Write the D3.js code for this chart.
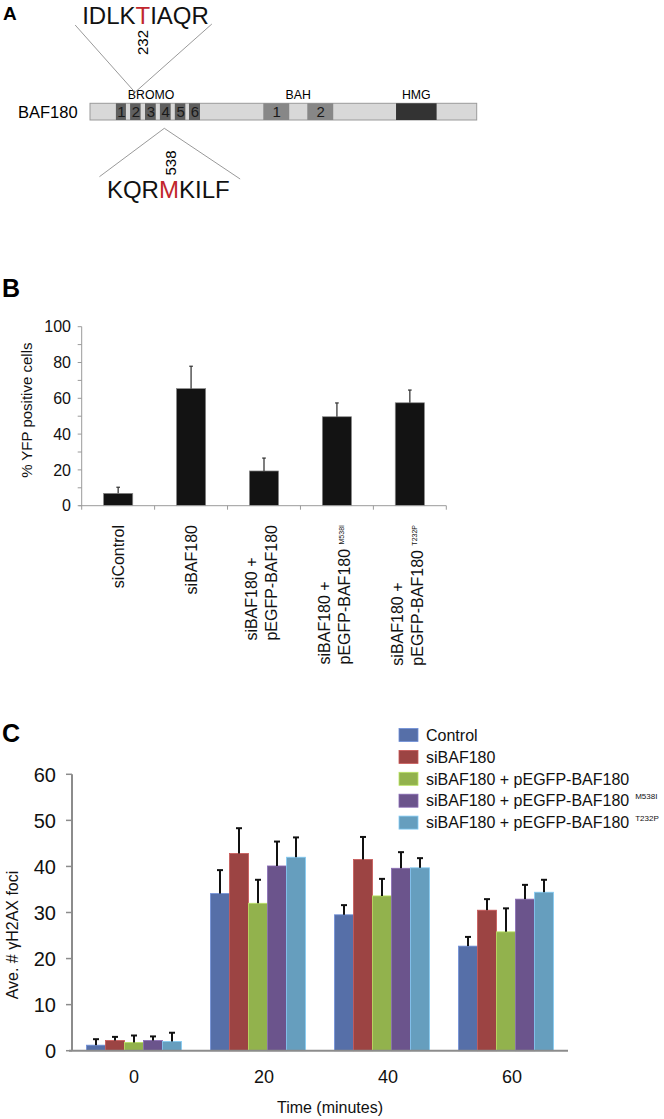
<!DOCTYPE html>
<html>
<head>
<meta charset="utf-8">
<script src="https://cdn.jsdelivr.net/npm/d3@7"></script>
<style>
  body { margin: 0; background: #fff; }
  svg { display: block; font-family: "Liberation Sans", Arial, sans-serif; }
</style>
</head>
<body>
<svg id="fig" width="664" height="1119"></svg>
<script>
// ---- Panel A: BAF180 domain schematic (positions in schematic residue units, 0-1582)
const proteinLength = 1582;
const domainNames = ["1", "2", "3", "4", "5", "6", "1", "2", ""];
const domainStarts = [106, 164, 225, 286, 347, 405, 709, 889, 1252];
const domainEnds = [147, 207, 269, 330, 390, 450, 815, 995, 1418];
const domainTypes = ["bromo", "bromo", "bromo", "bromo", "bromo", "bromo", "bah", "bah", "hmg"];
const regionLabels = ["BROMO", "BAH", "HMG"];
const regionCenters = [250, 852, 1335];
const motifTop = ["IDLK", "T", "IAQR"];
const motifBottom = ["KQR", "M", "KILF"];
const siteTop = {label: "232", pos: 184};
const siteBottom = {label: "538", pos: 304};

// ---- Panel B: % YFP positive cells
const labelsB = [["siControl"], ["siBAF180"], ["siBAF180 +", "pEGFP-BAF180"],
                 ["siBAF180 +", "pEGFP-BAF180 "], ["siBAF180 +", "pEGFP-BAF180 "]];
const supsB = ["", "", "", "M538I", "T232P"];
const valuesB = [6.9, 65.4, 19.4, 49.7, 57.5];
const errorsB = [3.4, 12.5, 7.2, 7.7, 7.1];
const ticksB = [0, 20, 40, 60, 80, 100];

// ---- Panel C: Ave. # γH2AX foci
const times = ["0", "20", "40", "60"];
const seriesNames = ["Control", "siBAF180", "siBAF180 + pEGFP-BAF180",
                     "siBAF180 + pEGFP-BAF180 ", "siBAF180 + pEGFP-BAF180  "];
const seriesSups = ["", "", "", "M538I", "T232P"];
const seriesColors = ["#566fa8", "#9c4443", "#92b24d", "#6b548c", "#669ebe"];
const valuesC = [
  [1.2, 34.1, 29.5, 22.7],
  [2.2, 42.8, 41.5, 30.5],
  [1.8, 32.0, 33.6, 25.8],
  [2.2, 40.1, 39.6, 32.9],
  [2.0, 42.0, 39.7, 34.4]
];
const errorsC = [
  [1.3, 5.1, 2.1, 2.0],
  [0.8, 5.5, 4.9, 2.4],
  [1.5, 5.1, 3.7, 5.1],
  [0.9, 5.3, 3.5, 3.1],
  [1.9, 4.3, 2.1, 2.7]
];
const ticksC = [0, 10, 20, 30, 40, 50, 60];

const svg = d3.select("#fig");

// panel letters
svg.append("text").attr("x", 3).attr("y", 20).attr("font-size", 19).attr("font-weight", "bold").text("A");
svg.append("text").attr("x", 2).attr("y", 297).attr("font-size", 25).attr("font-weight", "bold").text("B");
svg.append("text").attr("x", 2).attr("y", 742).attr("font-size", 25).attr("font-weight", "bold").text("C");

// ================= Panel A =================
function drawSchematic() {
  const g = svg.append("g");
  const x = d3.scaleLinear().domain([0, proteinLength]).range([90, 476.7]);
  const barTop = 103.3, barH = 16.7;
  const fills = {bromo: "#5f5f5f", bah: "#878787", hmg: "#333333"};

  g.append("rect")
    .attr("x", x(0)).attr("y", barTop)
    .attr("width", x(proteinLength) - x(0)).attr("height", barH)
    .attr("fill", "#d8d8d8").attr("stroke", "#9a9a9a").attr("stroke-width", 1);

  g.selectAll(".dom")
    .data(domainStarts.map((s, i) => ({s, e: domainEnds[i], name: domainNames[i], type: domainTypes[i]})))
    .enter().append("rect")
    .attr("x", d => x(d.s)).attr("y", barTop)
    .attr("width", d => x(d.e) - x(d.s)).attr("height", barH)
    .attr("fill", d => fills[d.type]);

  g.selectAll(".domnum")
    .data(domainStarts.map((s, i) => ({s, e: domainEnds[i], name: domainNames[i]})))
    .enter().append("text")
    .attr("x", d => (x(d.s) + x(d.e)) / 2 + 0.5)
    .attr("y", barTop + barH / 2)
    .attr("dy", "0.36em")
    .attr("text-anchor", "middle")
    .attr("font-size", 15)
    .attr("fill", "#1a1a1a")
    .text(d => d.name);

  g.selectAll(".region")
    .data(regionLabels)
    .enter().append("text")
    .attr("x", (d, i) => x(regionCenters[i]))
    .attr("y", 99)
    .attr("text-anchor", "middle")
    .attr("font-size", 12.3)
    .text(d => d);

  g.append("text").attr("x", 18).attr("y", 117.5).attr("font-size", 16.5).text("BAF180");

  // callout text with the mutated residue in red
  function motif(parts, cx, baseline) {
    const t = g.append("text").attr("x", cx).attr("y", baseline)
      .attr("text-anchor", "middle").attr("font-size", 24);
    parts.forEach((p, i) => t.append("tspan").attr("fill", i === 1 ? "#c1272d" : "#111").text(p));
    return t.node().getBBox();
  }

  const lineStyle = sel => sel.attr("stroke", "#9a9a9a").attr("stroke-width", 1).attr("fill", "none");

  const topBox = motif(motifTop, 145.5, 24);
  const apexTop = [x(siteTop.pos), barTop - 11];
  lineStyle(g.append("path")
    .attr("d", d3.line()([[topBox.x - 7, 25], apexTop, [topBox.x + topBox.width + 3, 24]])));
  g.append("text")
    .attr("transform", `translate(${apexTop[0] + 7.7},42.5) rotate(-90)`)
    .attr("text-anchor", "middle").attr("dy", "0.36em").attr("font-size", 15)
    .text(siteTop.label);

  const botBox = motif(motifBottom, 168.3, 198);
  const apexBot = [x(siteBottom.pos), barTop + barH + 8.3];
  lineStyle(g.append("path")
    .attr("d", d3.line()([[botBox.x - 7.5, 176.7], apexBot, [botBox.x + botBox.width + 10.5, 179]])));
  g.append("text")
    .attr("transform", `translate(${apexBot[0] + 6.7},163) rotate(-90)`)
    .attr("text-anchor", "middle").attr("dy", "0.36em").attr("font-size", 15)
    .text(siteBottom.label);
}

// ================= Panel B =================
function drawPanelB() {
  const g = svg.append("g");
  const left = 81.7, right = 446.3, top = 326.7, bottom = 505.7;
  const x = d3.scaleBand().domain(d3.range(labelsB.length)).range([left, right]).paddingInner(0.6).paddingOuter(0.3);
  const y = d3.scaleLinear().domain([0, 100]).range([bottom, top]);
  const axisColor = "#9a9a9a";

  // y axis with minor ticks every 10
  g.append("line").attr("x1", left).attr("x2", left).attr("y1", top).attr("y2", bottom)
    .attr("stroke", axisColor);
  g.selectAll(".ytick").data(d3.range(0, 101, 10)).enter().append("line")
    .attr("x1", left - 4).attr("x2", left).attr("y1", d => y(d)).attr("y2", d => y(d))
    .attr("stroke", axisColor);
  g.selectAll(".ylab").data(ticksB).enter().append("text")
    .attr("x", 71).attr("y", d => y(d)).attr("dy", "0.36em")
    .attr("text-anchor", "end").attr("font-size", 16).attr("fill", "#111")
    .text(d => d);
  g.append("text")
    .attr("transform", `translate(32,${(top + bottom) / 2 - 6}) rotate(-90)`)
    .attr("text-anchor", "middle").attr("font-size", 15).attr("fill", "#111")
    .text("% YFP positive cells");

  // bars
  g.selectAll(".bar").data(valuesB).enter().append("rect")
    .attr("x", (d, i) => x(i)).attr("width", x.bandwidth())
    .attr("y", d => y(d)).attr("height", d => bottom - y(d))
    .attr("fill", "#131313").attr("stroke", "#8a8a8a").attr("stroke-width", 0.7);

  // error bars (upper only)
  const eb = g.selectAll(".err").data(valuesB).enter().append("g")
    .attr("transform", (d, i) => `translate(${x(i) + x.bandwidth() / 2},0)`);
  eb.append("line").attr("y1", d => y(d)).attr("y2", (d, i) => y(d + errorsB[i]))
    .attr("stroke", "#3a3a3a").attr("stroke-width", 1.3);
  eb.append("line").attr("x1", -1.8).attr("x2", 1.8)
    .attr("y1", (d, i) => y(d + errorsB[i])).attr("y2", (d, i) => y(d + errorsB[i]))
    .attr("stroke", "#3a3a3a").attr("stroke-width", 1.3);

  // x axis
  g.append("line").attr("x1", left - 3).attr("x2", right).attr("y1", bottom).attr("y2", bottom)
    .attr("stroke", axisColor);
  g.selectAll(".xtick").data(d3.range(labelsB.length + 1)).enter().append("line")
    .attr("x1", i => left + i * x.step()).attr("x2", i => left + i * x.step())
    .attr("y1", bottom).attr("y2", bottom + 4)
    .attr("stroke", axisColor);

  // rotated category labels, block top aligned below the axis
  labelsB.forEach((lines, i) => {
    const cx = x(i) + x.bandwidth() / 2;
    const lg = g.append("g").attr("transform", `translate(${cx},525) rotate(-90)`);
    const offs = lines.length === 1 ? [6] : [-7, 13];
    const texts = lines.map((ln, j) => {
      const t = lg.append("text").attr("x", 0).attr("y", offs[j])
        .attr("font-size", 16).attr("fill", "#111");
      t.append("tspan").text(ln);
      if (j === lines.length - 1 && supsB[i]) {
        t.append("tspan").attr("font-size", 7).attr("dy", -6).text(supsB[i]);
      }
      return t;
    });
    const blockLen = d3.max(texts, t => t.node().getComputedTextLength());
    texts.forEach(t => t.attr("x", -blockLen));
  });
}

// ================= Panel C =================
function drawPanelC() {
  const g = svg.append("g");
  const left = 72, right = 568, top = 774.3, bottom = 1050.7;
  const x0 = d3.scaleBand().domain(times).range([left, right]).paddingInner(0.234).paddingOuter(0.117);
  const x1 = d3.scaleBand().domain(d3.range(seriesNames.length)).range([0, x0.bandwidth()]);
  const y = d3.scaleLinear().domain([0, 60]).range([bottom, top]);
  const axisColor = "#8c8c8c";

  // y axis
  g.append("line").attr("x1", left).attr("x2", left).attr("y1", top).attr("y2", bottom)
    .attr("stroke", axisColor).attr("stroke-width", 2);
  g.selectAll(".ytick").data(ticksC).enter().append("line")
    .attr("x1", left - 6).attr("x2", left).attr("y1", d => y(d)).attr("y2", d => y(d))
    .attr("stroke", axisColor).attr("stroke-width", 1.5);
  g.selectAll(".ylab").data(ticksC).enter().append("text")
    .attr("x", 56).attr("y", d => y(d)).attr("dy", "0.36em")
    .attr("text-anchor", "end").attr("font-size", 20).attr("fill", "#111")
    .text(d => d);
  g.append("text")
    .attr("transform", `translate(18,935) rotate(-90)`)
    .attr("text-anchor", "middle").attr("font-size", 16).attr("fill", "#111")
    .text("Ave. # γH2AX foci");

  // grouped bars
  const groups = g.selectAll(".grp").data(times).enter().append("g")
    .attr("transform", d => `translate(${x0(d)},0)`);
  groups.selectAll("rect")
    .data((t, ti) => valuesC.map((vals, si) => ({si, v: vals[ti], e: errorsC[si][ti]})))
    .enter().append("rect")
    .attr("x", d => x1(d.si)).attr("width", x1.bandwidth())
    .attr("y", d => y(d.v)).attr("height", d => bottom - y(d.v))
    .attr("fill", d => seriesColors[d.si])
    .attr("stroke", d => d3.color(seriesColors[d.si]).brighter(0.7))
    .attr("stroke-width", 0.8);

  const eb = groups.selectAll(".err")
    .data((t, ti) => valuesC.map((vals, si) => ({si, v: vals[ti], e: errorsC[si][ti]})))
    .enter().append("g")
    .attr("transform", d => `translate(${x1(d.si) + x1.bandwidth() / 2},0)`);
  eb.append("line").attr("y1", d => y(d.v)).attr("y2", d => y(d.v + d.e))
    .attr("stroke", "#111").attr("stroke-width", 2);
  eb.append("line").attr("x1", -3).attr("x2", 3)
    .attr("y1", d => y(d.v + d.e)).attr("y2", d => y(d.v + d.e))
    .attr("stroke", "#111").attr("stroke-width", 2);

  // x axis
  g.append("line").attr("x1", left - 3).attr("x2", right).attr("y1", bottom).attr("y2", bottom)
    .attr("stroke", axisColor).attr("stroke-width", 2);
  g.selectAll(".xlab").data(times).enter().append("text")
    .attr("x", d => x0(d) + x0.bandwidth() / 2 + (d === "0" ? 0 : 6))
    .attr("y", 1077).attr("dy", "0.36em")
    .attr("text-anchor", "middle").attr("font-size", 18).attr("fill", "#111")
    .text(d => d);
  g.append("text").attr("x", 330).attr("y", 1113)
    .attr("text-anchor", "middle").attr("font-size", 16).attr("fill", "#111")
    .text("Time (minutes)");

  // legend
  const lg = g.selectAll(".leg").data(seriesNames).enter().append("g")
    .attr("transform", (d, i) => `translate(399,${735 + i * 21.9})`);
  lg.append("rect").attr("x", 0).attr("y", -6.5).attr("width", 19).attr("height", 13)
    .attr("fill", (d, i) => seriesColors[i])
    .attr("stroke", (d, i) => d3.color(seriesColors[i]).brighter(0.7)).attr("stroke-width", 0.8);
  const lt = lg.append("text").attr("x", 27).attr("y", 0).attr("dy", "0.36em")
    .attr("font-size", 16).attr("fill", "#111");
  lt.append("tspan").text(d => d.trim());
  lt.append("tspan").attr("font-size", 8).attr("dx", 6).attr("dy", -7)
    .text((d, i) => seriesSups[i]);
}

drawSchematic();
drawPanelB();
drawPanelC();
</script>
</body>
</html>
